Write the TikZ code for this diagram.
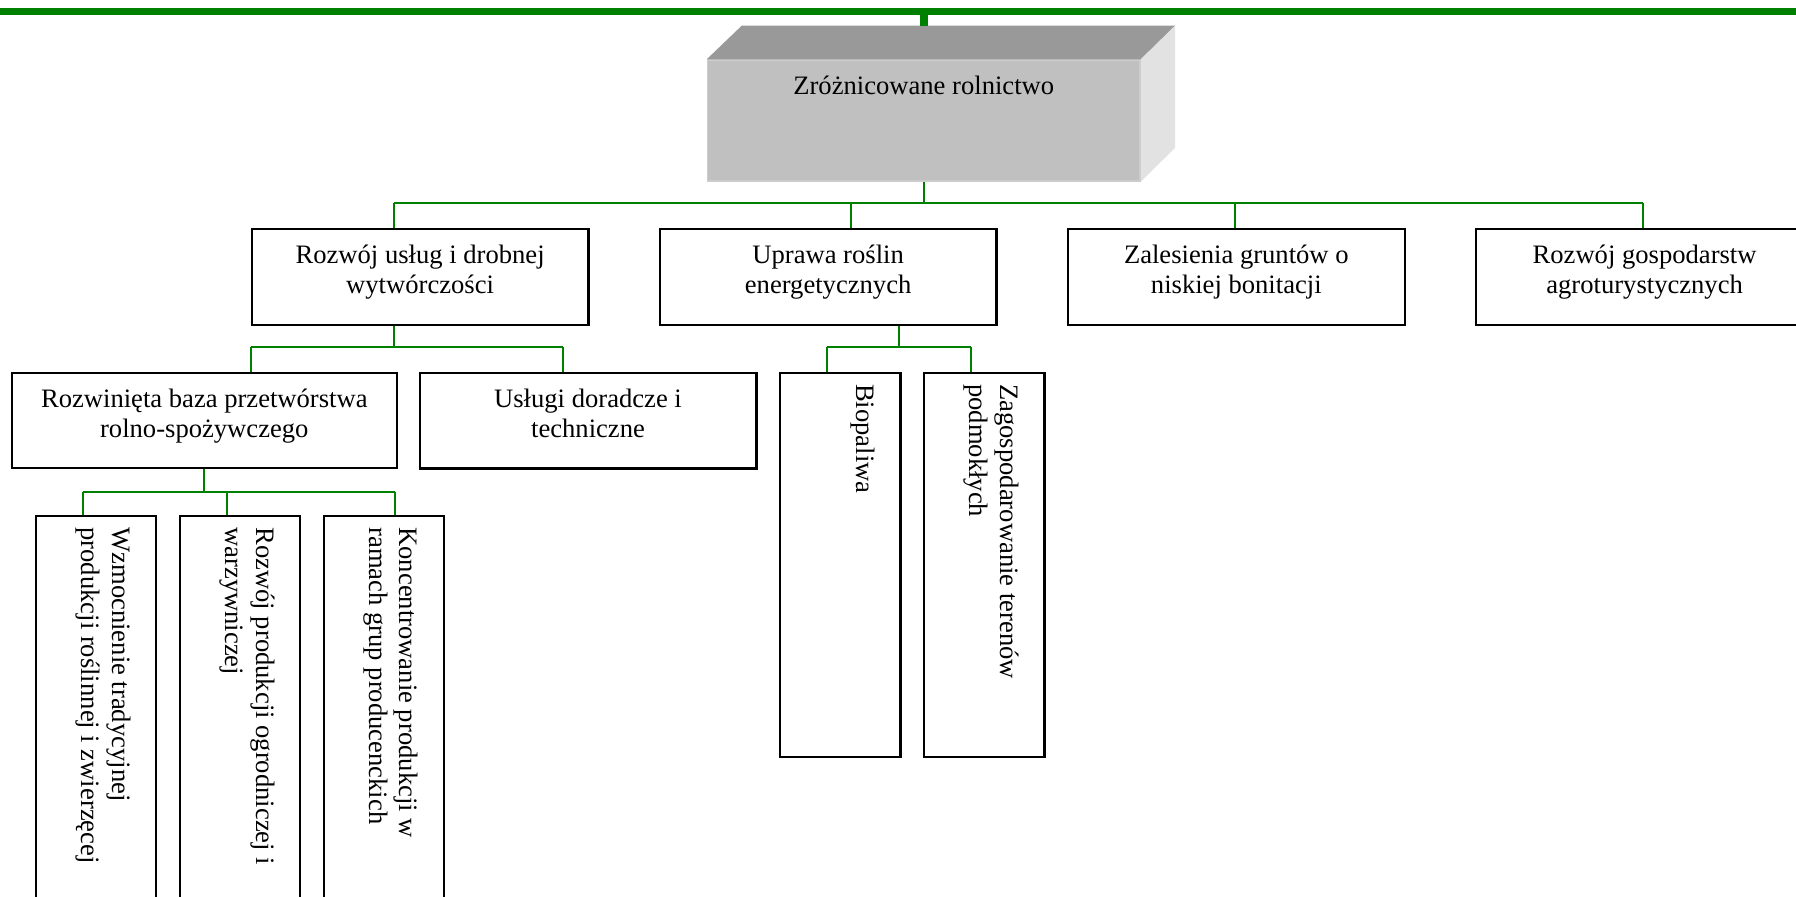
\documentclass[tikz,border=0pt]{standalone}
\usepackage{fontspec}
\setmainfont{Liberation Serif}
\usepackage{tikz}
\newlength\px
\setlength\px{0.451pt}
\definecolor{linkgreen}{RGB}{0,128,0}
\definecolor{frontgray}{RGB}{192,192,192}
\definecolor{topgray}{RGB}{153,153,153}
\definecolor{sidegray}{RGB}{226,226,226}

\begin{document}
\begin{tikzpicture}[x=0.451pt,y=-0.451pt,
  box/.style={draw=black,line width=1pt,fill=white,inner sep=0pt,anchor=north west},
  boxsize/.style 2 args={minimum width=#1*\px,minimum height=#2*\px},
  txt/.style={anchor=north,align=center,inner sep=0pt,font=\fontsize{12}{13.8}\selectfont},
  rtxt/.style={rotate=-90,anchor=north west,align=left,inner sep=0pt,font=\fontsize{12}{13.8}\selectfont},
  link/.style={draw=linkgreen,line width=0.9pt},
  rail/.style={draw=linkgreen,line width=3.6pt}]
 \useasboundingbox (0,0) rectangle (1796,897);
 \clip (0,0) rectangle (1796,897);

 \coordinate (railL) at (-10,11.5);
 \coordinate (railR) at (1806,11.5);
 \draw[rail] (railL) -- (railR);

 \node[box,draw=gray!40,line width=0.8pt,fill=frontgray,boxsize={432.3}{120.7}] (rolnictwo) at (706.7,59.3) {};
 \fill[topgray] (rolnictwo.north west) -- ++(35,-33.6) -- ([shift={(34.3,-33.6)}]rolnictwo.north east) -- (rolnictwo.north east) -- cycle;
 \fill[sidegray] (rolnictwo.north east) -- ++(34.3,-33.6) -- ([shift={(34.3,-34)}]rolnictwo.south east) -- (rolnictwo.south east) -- cycle;
 \draw[rail] (rolnictwo.north |- railL) -- ([shift={(0,-33.6)}]rolnictwo.north);
 \node[txt] at ([yshift=-6.1pt]rolnictwo.north) {\strut Zróżnicowane rolnictwo};

 \node[box,boxsize={336.6}{96.3}] (uslugi) at (250.7,227.7) {};
 \node[box,boxsize={336.6}{96.3}] (uprawa) at (658.7,227.7) {};
 \node[box,boxsize={337}{96.3}] (zalesienia) at (1066.7,227.7) {};
 \node[box,boxsize={337}{96.3}] (agro) at (1475,227.7) {};
 \node[txt] at ([yshift=-6.1pt]uslugi.north) {\strut Rozwój usług i drobnej\\wytwórczości};
 \node[txt] at ([yshift=-6.1pt]uprawa.north) {\strut Uprawa roślin\\energetycznych};
 \node[txt] at ([yshift=-6.1pt]zalesienia.north) {\strut Zalesienia gruntów o\\niskiej bonitacji};
 \node[txt] at ([yshift=-6.1pt]agro.north) {\strut Rozwój gospodarstw\\agroturystycznych};

 \node[box,boxsize={385}{95.3}] (baza) at (10.7,371.7) {};
 \node[box,boxsize={336.8}{95.6}] (doradcze) at (418.5,371.7) {};
 \node[txt] at ([yshift=-6.1pt]baza.north) {\strut Rozwinięta baza przetwórstwa\\rolno-spożywczego};
 \node[txt] at ([yshift=-6.1pt]doradcze.north) {\strut Usługi doradcze i\\techniczne};

 \node[box,boxsize={120}{400}] (tradycyjne) at (35,515) {};
 \node[box,boxsize={120}{400}] (ogrodnicze) at (179,515) {};
 \node[box,boxsize={120}{400}] (grupy) at (322.7,515) {};
 \node[rtxt] at ([shift={(-23.2,12)}]tradycyjne.north east) {\strut Wzmocnienie tradycyjnej\\produkcji roślinnej i zwierzęcej};
 \node[rtxt] at ([shift={(-23.2,12)}]ogrodnicze.north east) {\strut Rozwój produkcji ogrodniczej i\\warzywniczej};
 \node[rtxt] at ([shift={(-23.2,12)}]grupy.north east) {\strut Koncentrowanie produkcji w\\ramach grup producenckich};

 \node[box,boxsize={120.3}{384}] (biopaliwa) at (779,371.7) {};
 \node[box,boxsize={120.3}{384}] (podmokle) at (923,371.7) {};
 \node[rtxt] at ([shift={(-23.2,12)}]biopaliwa.north east) {\strut Biopaliwa};
 \node[rtxt] at ([shift={(-23.2,12)}]podmokle.north east) {\strut Zagospodarowanie terenów\\podmokłych};

 \coordinate (jA) at (394.3,203.3);
 \coordinate (jB) at (851,203.3);
 \coordinate (jC) at (1235,203.3);
 \coordinate (jD) at (1643.3,203.3);
 \draw[link] (rolnictwo.south) -- (rolnictwo.south |- jA);
 \draw[link] (jA) -- (jD);
 \foreach \j/\n in {jA/uslugi,jB/uprawa,jC/zalesienia,jD/agro}
  \draw[link] (\j) -- (\j |- \n.north);

 \coordinate (jE) at (250.7,347.3);
 \coordinate (jF) at (563.3,347.3);
 \draw[link] (jA |- uslugi.south) -- (jA |- jE);
 \draw[link] (jE) -- (jF);
 \foreach \j/\n in {jE/baza,jF/doradcze}
  \draw[link] (\j) -- (\j |- \n.north);

 \coordinate (jG1) at (82.7,491.7);
 \coordinate (jG2) at (226.7,491.7);
 \coordinate (jG3) at (395.3,491.7);
 \draw[link] (baza.south) -- (baza.south |- jG1);
 \draw[link] (jG1) -- (jG3);
 \foreach \j/\n in {jG1/tradycyjne,jG2/ogrodnicze,jG3/grupy}
  \draw[link] (\j) -- (\j |- \n.north);

 \coordinate (jB0) at (899,347.3);
 \coordinate (jH1) at (826.7,347.3);
 \coordinate (jH2) at (971,347.3);
 \draw[link] (jB0 |- uprawa.south) -- (jB0);
 \draw[link] (jH1) -- (jH2);
 \foreach \j/\n in {jH1/biopaliwa,jH2/podmokle}
  \draw[link] (\j) -- (\j |- \n.north);
\end{tikzpicture}
\end{document}
